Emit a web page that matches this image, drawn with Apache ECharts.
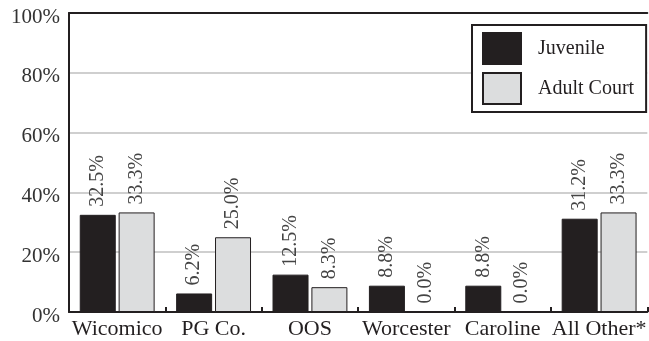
<!DOCTYPE html>
<html>
<head>
<meta charset="utf-8">
<script src="https://cdn.jsdelivr.net/npm/echarts@6/dist/echarts.min.js"></script>
<style>html,body{margin:0;padding:0;background:#fff}#c{width:649px;height:341px}</style>
</head>
<body>
<div id="c"></div>
<script>
var categories = ['Wicomico', 'PG Co.', 'OOS', 'Worcester', 'Caroline', 'All Other*'];
var juvenile = [32.5, 6.2, 12.5, 8.8, 8.8, 31.2];
var adultCourt = [33.3, 25.0, 8.3, 0.0, 0.0, 33.3];
var yTicks = [0, 20, 40, 60, 80, 100];

var FONT = '"Liberation Serif", "DejaVu Serif", serif';
var chart = echarts.init(document.getElementById('c'));
var labelCfg = {
  show: true,
  position: 'top',
  rotate: 90,
  align: 'left',
  verticalAlign: 'middle',
  distance: 8,
  fontFamily: FONT,
  fontSize: 20,
  color: '#444',
  formatter: function (p) { return p.value.toFixed(1) + '%'; }
};
chart.setOption({
  animation: false,
  grid: {
    left: 69, right: -4, top: 13, bottom: 29
  },
  legend: {
    orient: 'vertical',
    left: 472, top: 25,
    backgroundColor: '#fff',
    borderColor: '#231f20', borderWidth: 2, borderRadius: 0,
    padding: [7, 12, 7, 10],
    icon: 'rect',
    itemWidth: 38, itemHeight: 31, itemGap: 7,
    textStyle: { fontFamily: FONT, fontSize: 20, color: '#231f20', padding: [0, 0, 0, 12] },
    data: ['Juvenile', 'Adult Court']
  },
  xAxis: [{
    type: 'category',
    data: categories,
    axisLine: { lineStyle: { color: '#231f20', width: 2 } },
    axisTick: { show: true, inside: true, length: 5, lineStyle: { color: '#231f20', width: 2 } },
    axisLabel: { fontFamily: FONT, fontSize: 22, color: '#231f20', margin: 6, interval: 0 }
  }, {
    type: 'category',
    position: 'top',
    data: categories,
    axisLine: { show: true, lineStyle: { color: '#231f20', width: 2 } },
    axisTick: { show: false },
    axisLabel: { show: false }
  }],
  yAxis: {
    type: 'value',
    min: yTicks[0], max: yTicks[yTicks.length - 1], interval: 20,
    axisLine: { show: true, lineStyle: { color: '#231f20', width: 2 } },
    axisTick: { show: false },
    splitLine: { lineStyle: { color: '#cfcfcf', width: 2 } },
    axisLabel: {
      margin: 9,
      formatter: function (v) { return '{a|' + v + '%}'; },
      rich: { a: { fontFamily: FONT, fontSize: 21, color: '#333', padding: [8, 0, 0, 0] } }
    }
  },
  series: [
    {
      name: 'Juvenile', type: 'bar', data: juvenile,
      barWidth: 36, barGap: '8%',
      itemStyle: { color: '#231f20', borderColor: '#231f20', borderWidth: 1 },
      label: labelCfg
    },
    {
      name: 'Adult Court', type: 'bar', data: adultCourt,
      barWidth: 36,
      itemStyle: { color: '#dcddde', borderColor: '#231f20', borderWidth: 1 },
      label: labelCfg
    }
  ]
});
</script>
</body>
</html>
